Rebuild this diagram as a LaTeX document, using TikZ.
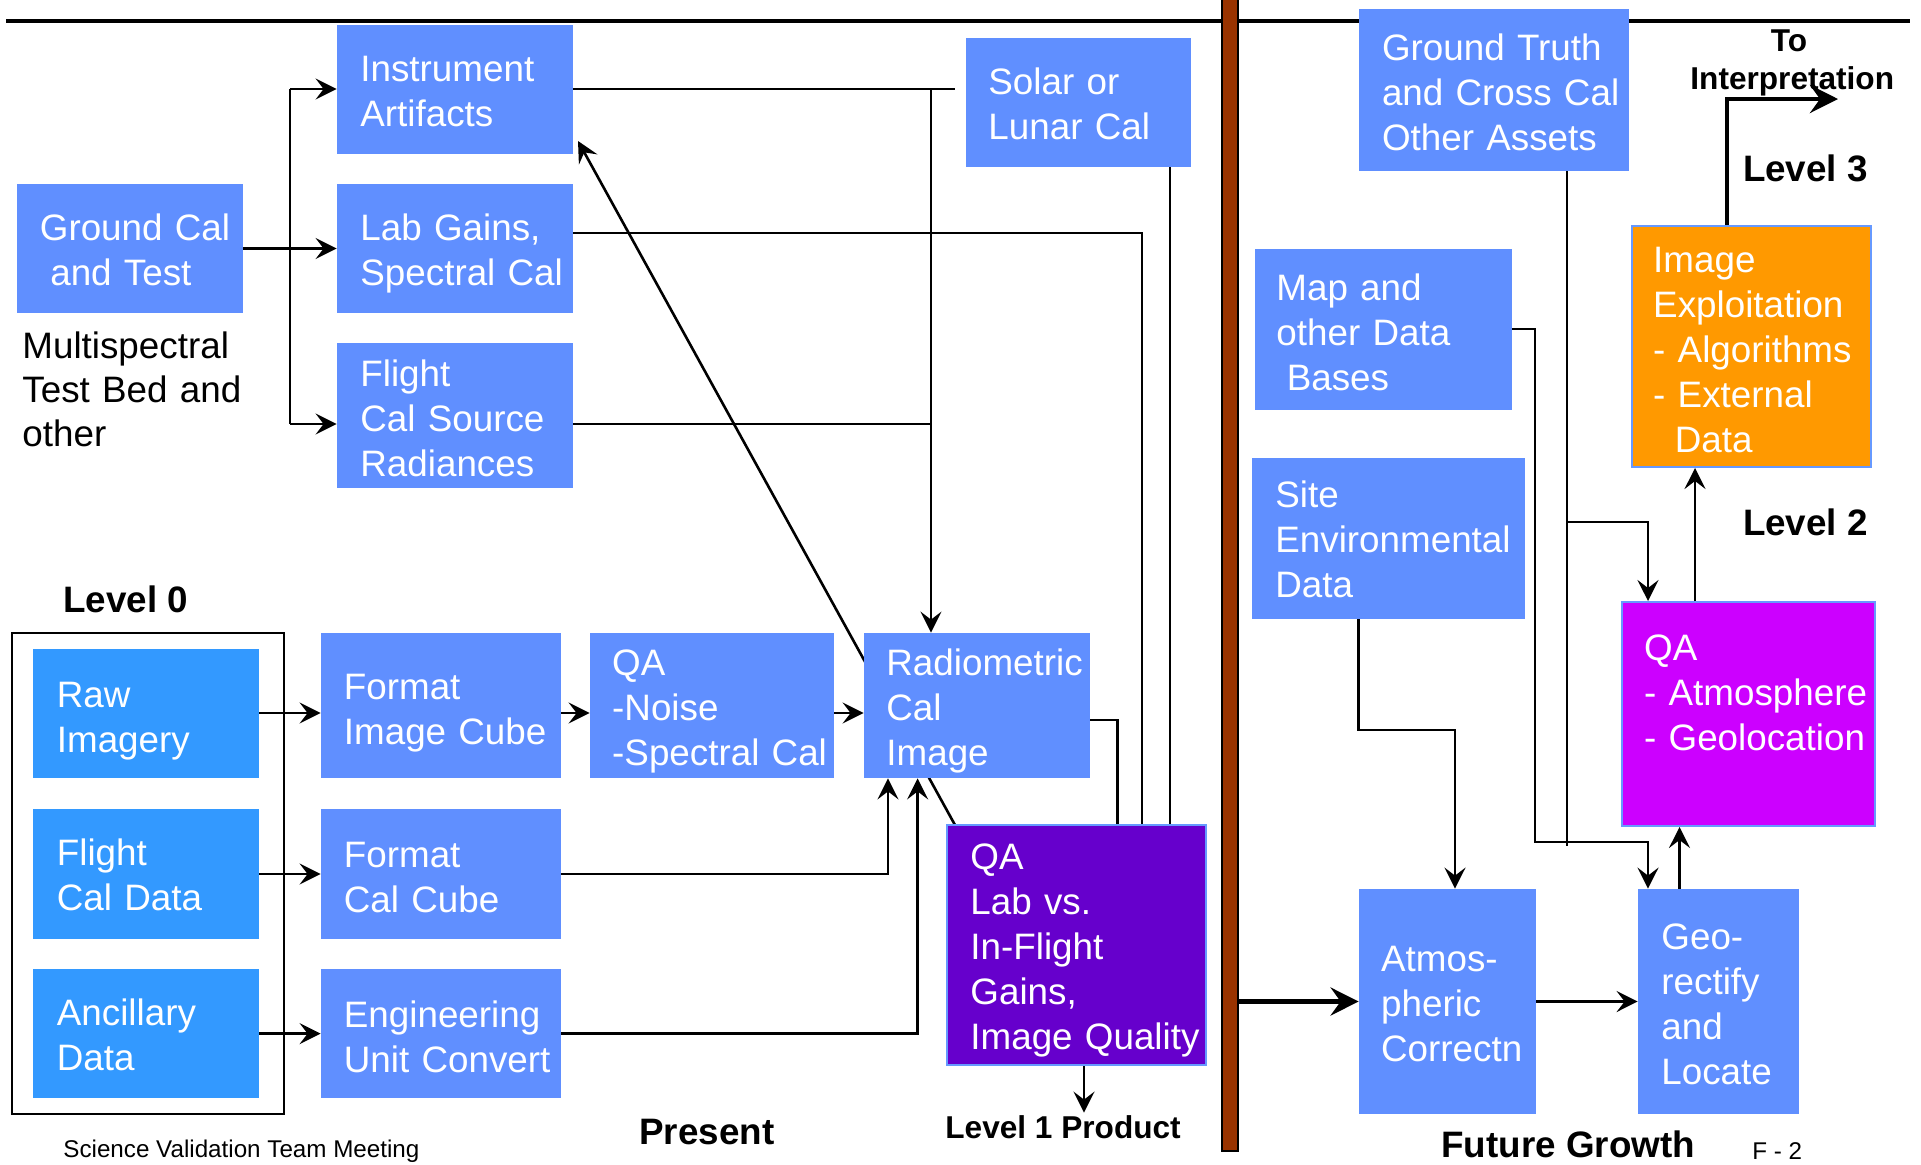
\documentclass[tikz,border=0pt]{standalone}
\usepackage{fontspec}
\setmainfont{Liberation Sans}
\usetikzlibrary{arrows.meta,fit,calc}
\definecolor{boxblue}{RGB}{96,143,255}
\definecolor{rawblue}{RGB}{51,153,255}
\definecolor{qapurple}{RGB}{102,0,204}
\definecolor{qamagenta}{RGB}{204,0,255}
\definecolor{exorange}{RGB}{255,153,0}
\definecolor{barbrown}{RGB}{153,51,0}
\definecolor{edgeblue}{RGB}{102,153,255}
\begin{document}
\begin{tikzpicture}[x=0.5pt,y=-0.5pt,
  box/.style={inner sep=0pt, fill=boxblue, draw=none},
  rawbox/.style={box, fill=rawblue},
  edged/.style={draw=edgeblue, line width=1pt},
  conn/.style={line width=1.3pt, draw=black},
  arr/.style={conn, -{Stealth[length=10.5pt,width=10.5pt,inset=4pt]}},
  thk/.style={line width=2.3pt, draw=black, -{Stealth[length=14pt,width=14pt,inset=5pt]}},
  btxt/.style={anchor=base west, inner sep=0pt, text width=300pt, align=left,
    text=white, font=\fontsize{18.4}{22.5}\selectfont},
  lbl/.style={anchor=base west, inner sep=0pt, font=\fontsize{18.4}{22}\selectfont\bfseries},
  small/.style={anchor=base west, inner sep=0pt, font=\fontsize{12.1}{14}\selectfont}
]
\useasboundingbox (0,0) rectangle (1921,1164);

% top rule
\coordinate (tl1) at (6,20.6);
\coordinate (tl2) at (1910,20.6);
\draw[line width=2pt] (tl1) -- (tl2);

% diagonal (behind the Radiometric box)
\coordinate (d1) at (955,825);
\coordinate (d2) at (578,141);
\draw[arr] (d1) -- (d2);

% brown divider
\node[inner sep=0pt, fill=barbrown, draw=black, line width=1pt, fit={(1222,-5) (1238,1150.6)}] (bar) {};

% boxes
\node[box, fit={(337,25) (573,154)}] (inst) {};
\node[box, fit={(337,184) (573,313)}] (lab) {};
\node[box, fit={(337,343) (573,488)}] (fcs) {};
\node[box, fit={(17,184) (243,313)}] (gcal) {};
\node[box, fit={(966,38) (1191,167)}] (solar) {};
\node[box, fit={(1359,9) (1629,171)}] (gtruth) {};
\node[box, fit={(1255,249) (1512,410)}] (map) {};
\node[box, fit={(1252,458) (1525,619)}] (site) {};
\node[box, edged, fill=exorange, fit={(1632,226) (1871,467)}] (imgx) {};
\node[box, edged, fill=qamagenta, fit={(1622,602) (1875,826)}] (qaat) {};
\node[box, fit={(1359,889) (1536,1114)}] (atm) {};
\node[box, fit={(1638,889) (1799,1114)}] (geo) {};
\node[box, edged, fill=qapurple, fit={(947,825) (1206,1065)}] (qalab) {};
\node[box, fit={(864,633) (1090,778)}] (radio) {};
\node[box, fit={(590,633) (834,778)}] (qan) {};
\node[box, fit={(321,633) (561,778)}] (fic) {};
\node[box, fit={(321,809) (561,939)}] (fcc) {};
\node[box, fit={(321,969) (561,1098)}] (euc) {};
\node[rawbox, fit={(33,649) (259,778)}] (raw) {};
\node[rawbox, fit={(33,809) (259,939)}] (fcd) {};
\node[rawbox, fit={(33,969) (259,1098)}] (anc) {};
\node[inner sep=0pt, draw=black, line width=1.1pt, fit={(12,633) (284,1114)}] (frame) {};

% box texts
\node[btxt] (instT) at (360,81) {Instrument\\Artifacts};
\node[btxt] (labT) at (360,240) {Lab Gains,\\Spectral Cal};
\node[btxt] (fcsT) at (360,386) {Flight\\Cal Source\\Radiances};
\node[btxt] (gcalT) at (39.5,240) {Ground Cal\\\hspace*{5.2pt}and Test};
\node[btxt] (solarT) at (988,94) {Solar or\\Lunar Cal};
\node[btxt] (gtruthT) at (1381.6,60) {Ground Truth\\and Cross Cal\\Other Assets};
\node[btxt] (mapT) at (1276,300) {Map and\\other Data\\\hspace*{5.2pt}Bases};
\node[btxt] (siteT) at (1275,507) {Site\\Environmental\\Data};
\node[btxt] (imgxT) at (1652.8,272) {Image\\Exploitation\\- Algorithms\\- External\\\hspace*{10.8pt}Data};
\node[btxt] (qaatT) at (1643.7,660) {QA\\- Atmosphere\\- Geolocation};
\node[btxt] (atmT) at (1380.7,971) {Atmos-\\pheric\\Correctn};
\node[btxt] (geoT) at (1661,949) {Geo-\\rectify\\and\\Locate};
\node[btxt] (qalabT) at (970,869) {QA\\Lab vs.\\In-Flight\\Gains,\\Image Quality};
\node[btxt] (radioT) at (886,675) {Radiometric\\Cal\\Image};
\node[btxt] (qanT) at (611.8,675) {QA\\-Noise\\-Spectral Cal};
\node[btxt] (ficT) at (343.5,699) {Format\\Image Cube};
\node[btxt] (fccT) at (343.5,867) {Format\\Cal Cube};
\node[btxt] (eucT) at (343.5,1027) {Engineering\\Unit Convert};
\node[btxt] (rawT) at (56.5,707) {Raw\\Imagery};
\node[btxt] (fcdT) at (56.5,865) {Flight\\Cal Data};
\node[btxt] (ancT) at (56.5,1025) {Ancillary\\Data};

% free labels
\node[btxt, text=black, font=\fontsize{18.4}{22}\selectfont] (multi) at (22,358) {Multispectral\\Test Bed and\\other};
\node[lbl] (lv0) at (63,612.8) {Level 0};
\node[lbl] (present) at (639,1144) {Present};
\node[lbl, font=\fontsize{15.8}{18}\selectfont\bfseries] (lv1) at (945,1138.6) {Level 1 Product};
\node[small] (svt) at (63,1157) {Science Validation Team Meeting};
\node[lbl] (fg) at (1441,1157) {Future Growth};
\node[small] (f2) at (1752,1159) {F - 2};
\node[lbl] (lv3) at (1742.6,181.9) {Level 3};
\node[lbl] (lv2) at (1742.6,535.8) {Level 2};
\node[lbl, anchor=base, font=\fontsize{15.8}{18}\selectfont\bfseries] (to) at (1789,51.4) {To};
\node[lbl, font=\fontsize{15.8}{18}\selectfont\bfseries] (interp) at (1690,89) {Interpretation};

% left feeds
\draw[arr] (gcal.east) -- (gcal.east -| lab.west);
\coordinate (bT) at (290,89);
\coordinate (bB) at (290,424);
\draw[conn] (bT) -- (bB);
\draw[arr] (bT) -- (bT -| inst.west);
\draw[arr] (bB) -- (bB -| fcs.west);

% calibration inputs
\coordinate (j1) at (931,89);
\coordinate (iaEnd) at (955,89);
\draw[conn] (inst.east |- j1) -- (iaEnd);
\draw[arr] (j1) -- (j1 |- radio.north);
\coordinate (j2) at (1142,233);
\draw[conn] (lab.east |- j2) -- (j2) -- (j2 |- qalab.north);
\coordinate (j3) at (931,424);
\draw[conn] (fcs.east |- j3) -- (j3);
\coordinate (j4) at (1170,167);
\draw[conn] (j4) -- (j4 |- qalab.north);
\coordinate (j5) at (1117.6,720);
\draw[conn] (radio.east |- j5) -- (j5) -- (j5 |- qalab.north);

% level 0 chain
\coordinate (r1) at (0,713);
\coordinate (r2) at (0,874);
\coordinate (r3) at (0,1033.6);
\draw[arr] (raw.east |- r1) -- (fic.west |- r1);
\draw[arr] (fcd.east |- r2) -- (fcc.west |- r2);
\draw[arr] (anc.east |- r3) -- (euc.west |- r3);
\draw[arr] (fic.east |- r1) -- (qan.west |- r1);
\draw[arr] (qan.east |- r1) -- (radio.west |- r1);
\coordinate (j6) at (888,874);
\draw[arr] (fcc.east |- j6) -- (j6) -- (j6 |- radio.south);
\coordinate (j7) at (917.6,1033.6);
\draw[arr] (euc.east |- j7) -- (j7) -- (j7 |- radio.south);
\coordinate (l1) at (1084,1112.6);
\draw[arr] (l1 |- qalab.south) -- (l1);

% future growth
\draw[thk] (bar.east |- atm.west) -- (atm.west);
\draw[arr] (atm.east) -- (geo.west);
\coordinate (s1) at (1358.6,730);
\coordinate (s2) at (1455,730);
\draw[arr] (s1 |- site.south) -- (s1) -- (s2) -- (s2 |- atm.north);
\coordinate (m1) at (1535,329);
\coordinate (m2) at (1535,842);
\coordinate (m3) at (1648,842);
\draw[arr] (map.east |- m1) -- (m1) -- (m2) -- (m3) -- (m3 |- geo.north);
\coordinate (g1) at (1567,846);
\coordinate (g2) at (1567,522);
\coordinate (g3) at (1648,522);
\draw[conn] (g1 |- gtruth.south) -- (g1);
\draw[arr] (g2) -- (g3) -- (g3 |- qaat.north);
\coordinate (u1) at (1679.5,0);
\draw[arr] (u1 |- geo.north) -- (u1 |- qaat.south);
\coordinate (u2) at (1695,0);
\draw[arr] (u2 |- qaat.north) -- (u2 |- imgx.south);
\coordinate (k1) at (1727,99);
\coordinate (k2) at (1838,99);
\draw[thk] (k1 |- imgx.north) -- (k1) -- (k2);
\end{tikzpicture}
\end{document}
